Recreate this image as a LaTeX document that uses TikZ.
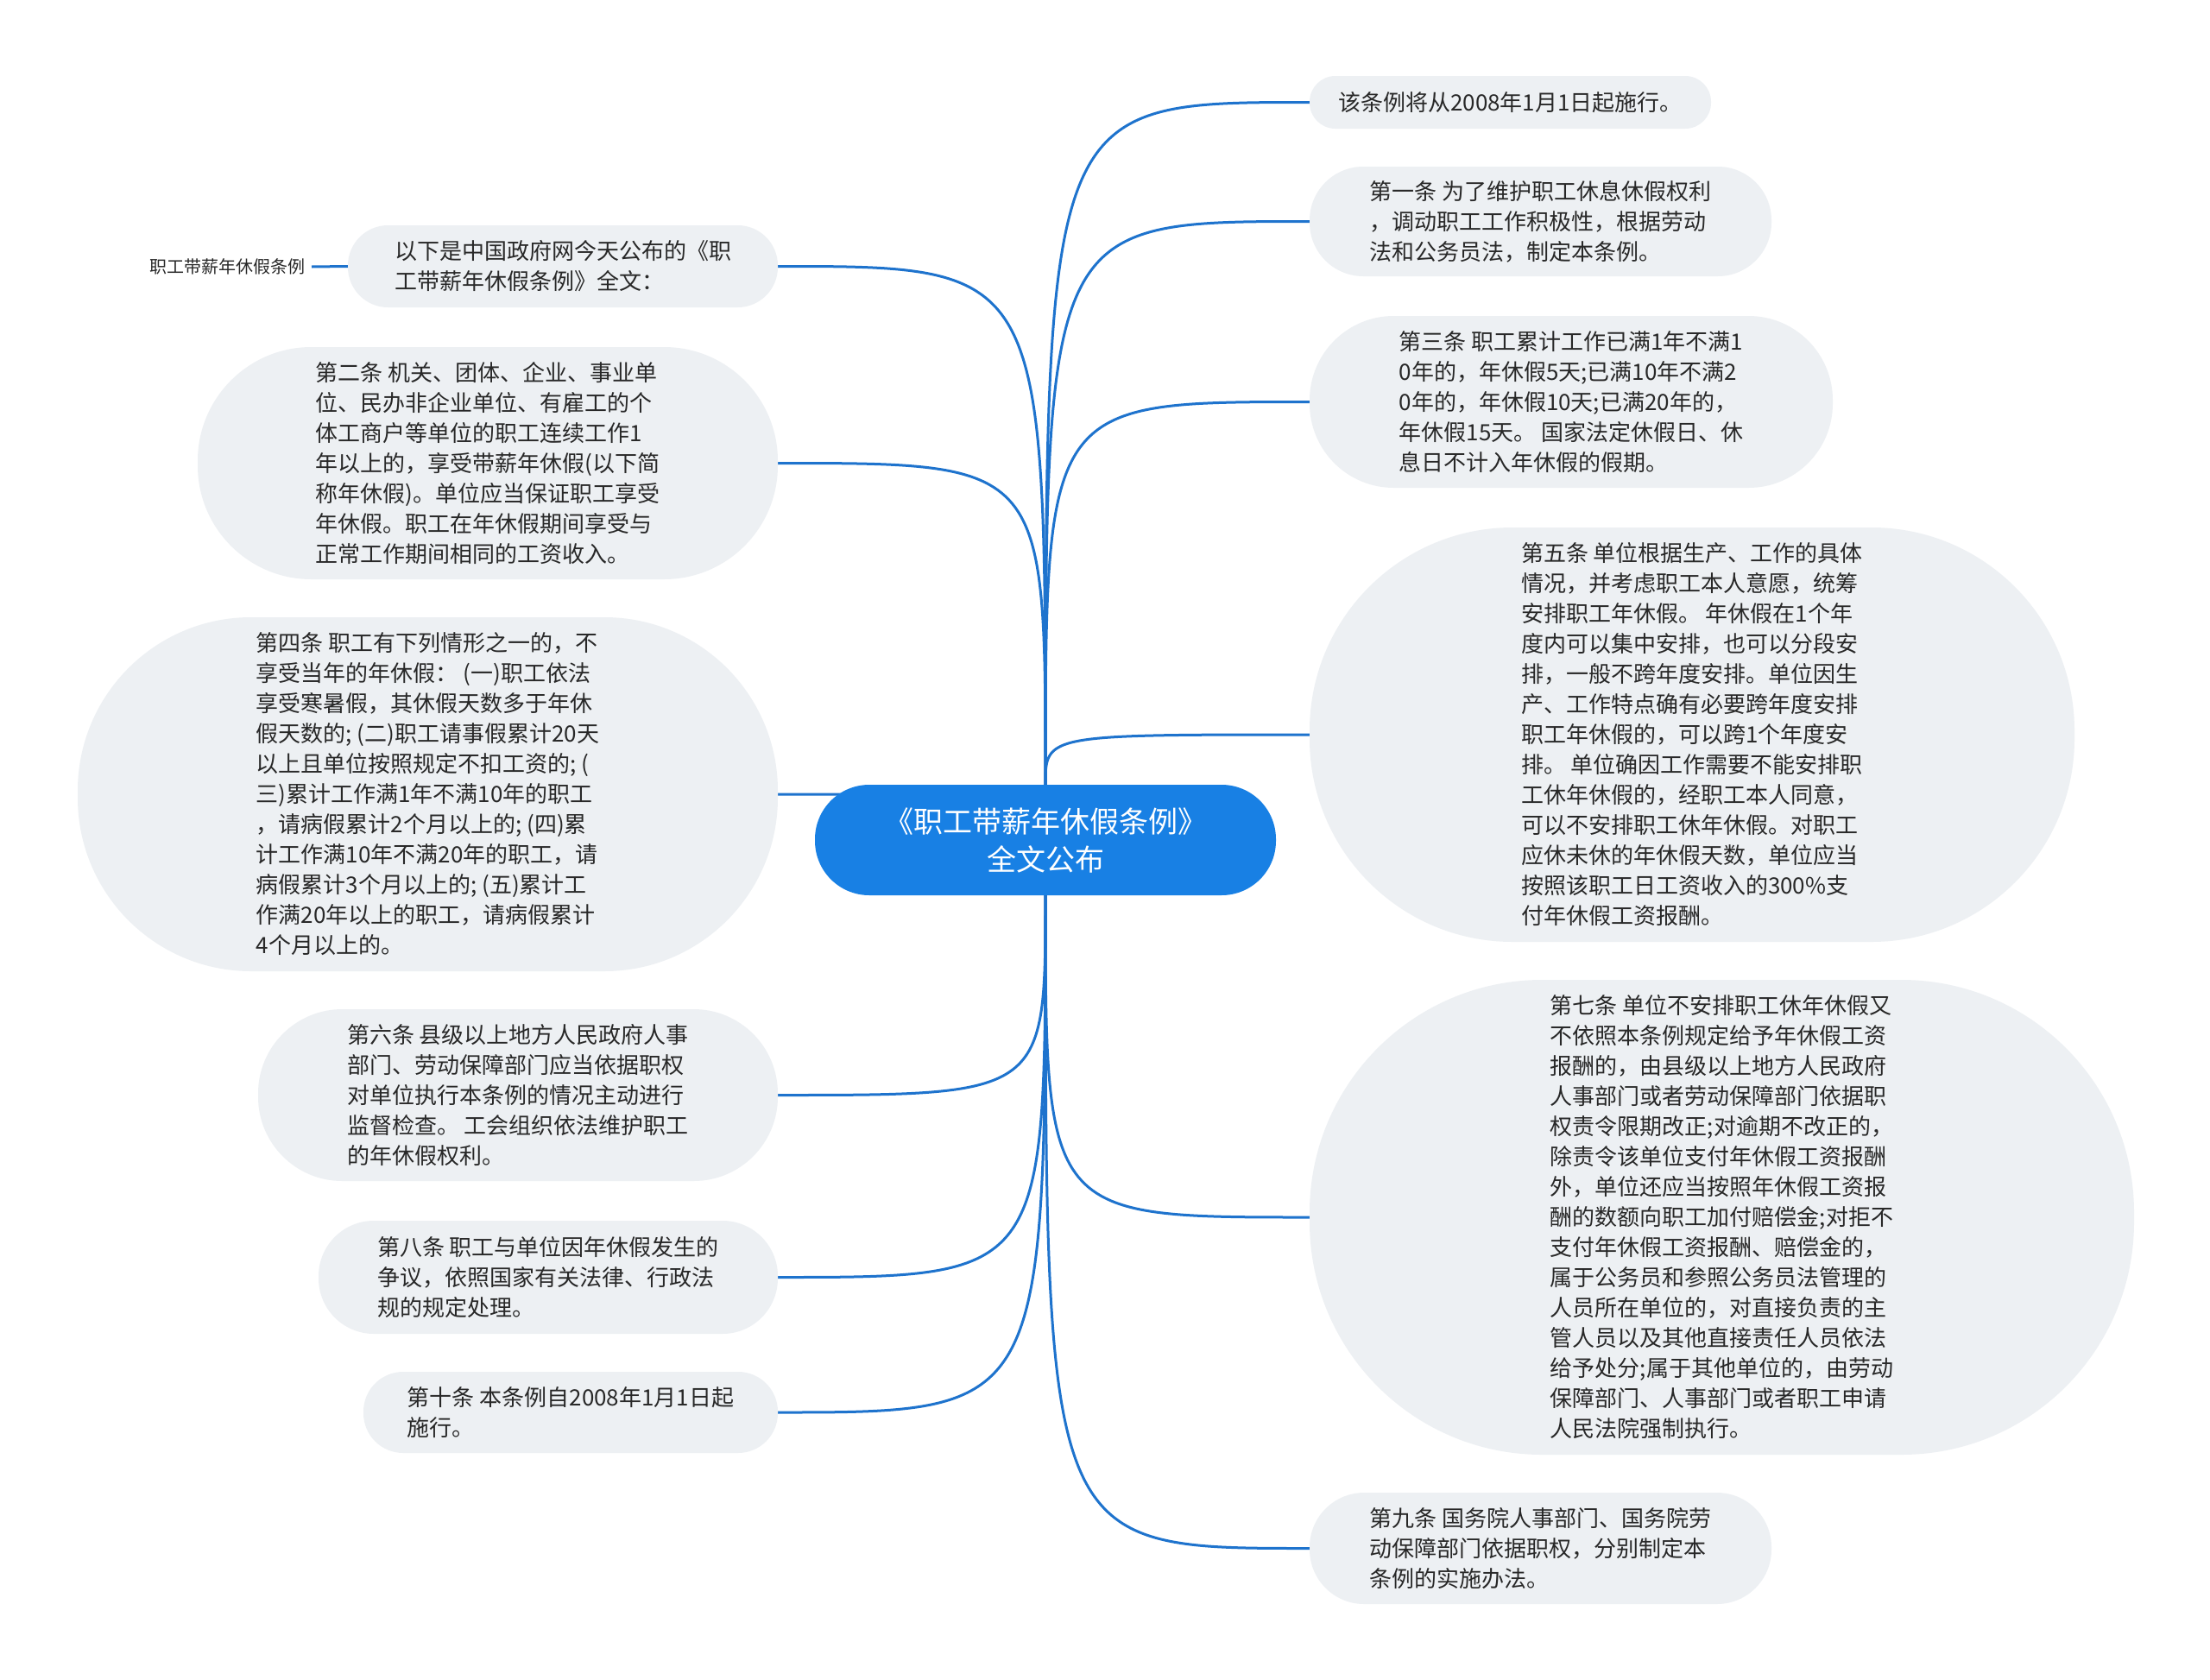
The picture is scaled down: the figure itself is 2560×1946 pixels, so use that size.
\documentclass[tikz,border=0pt]{standalone}
\usepackage{fontspec}
\setmainfont{Noto Sans CJK SC}
\usetikzlibrary{backgrounds}
\definecolor{rootblue}{RGB}{24,128,228}
\definecolor{branchblue}{RGB}{30,115,205}
\definecolor{leafgray}{RGB}{237,240,243}
\definecolor{leaftext}{RGB}{40,40,40}

\begin{document}
\begin{tikzpicture}[
  x=1pt, y=-1pt,
  root/.style={fill=rootblue, text=white, align=center, inner sep=0pt,
    minimum width=534pt, minimum height=128pt, rounded corners=63pt,
    font=\fontsize{34}{44}\selectfont},
  leaf/.style 2 args={fill=leafgray, text=leaftext, align=left, inner sep=0pt,
    minimum width=#1, minimum height=#2, rounded corners=0.49*#2,
    font=\fontsize{26}{35}\selectfont},
  tag/.style={text=leaftext, inner sep=7pt, anchor=east,
    font=\fontsize{20}{24}\selectfont},
  branch/.style={draw=branchblue, line width=3pt}
]
\useasboundingbox (0,0) rectangle (2560,1946);

\node[root] (c) at (1211,973) {《职工带薪年休假条例》\\全文公布};

\node[leaf={498pt}{95pt}] (l1) at (652,308.5)
  {以下是中国政府网今天公布的《职\\工带薪年休假条例》全文：};
\node[tag] (lab) at (361,309) {职工带薪年休假条例};
\node[leaf={672pt}{269pt}] (l2) at (565,536.5)
  {第二条 机关、团体、企业、事业单\\位、民办非企业单位、有雇工的个\\体工商户等单位的职工连续工作1\\年以上的，享受带薪年休假(以下简\\称年休假)。单位应当保证职工享受\\年休假。职工在年休假期间享受与\\正常工作期间相同的工资收入。};
\node[leaf={811pt}{410pt}] (l3) at (495.5,920)
  {第四条 职工有下列情形之一的，不\\享受当年的年休假： (一)职工依法\\享受寒暑假，其休假天数多于年休\\假天数的; (二)职工请事假累计20天\\以上且单位按照规定不扣工资的; (\\三)累计工作满1年不满10年的职工\\，请病假累计2个月以上的; (四)累\\计工作满10年不满20年的职工，请\\病假累计3个月以上的; (五)累计工\\作满20年以上的职工，请病假累计\\4个月以上的。};
\node[leaf={602pt}{199pt}] (l4) at (600,1268.5)
  {第六条 县级以上地方人民政府人事\\部门、劳动保障部门应当依据职权\\对单位执行本条例的情况主动进行\\监督检查。 工会组织依法维护职工\\的年休假权利。};
\node[leaf={532pt}{131pt}] (l5) at (635,1479.5)
  {第八条 职工与单位因年休假发生的\\争议，依照国家有关法律、行政法\\规的规定处理。};
\node[leaf={480pt}{94pt}] (l6) at (661,1636)
  {第十条 本条例自2008年1月1日起\\施行。};

\node[leaf={465pt}{61pt}] (r1) at (1749.5,118.5)
  {该条例将从2008年1月1日起施行。};
\node[leaf={535pt}{127pt}] (r2) at (1784.5,256.5)
  {第一条 为了维护职工休息休假权利\\，调动职工工作积极性，根据劳动\\法和公务员法，制定本条例。};
\node[leaf={606pt}{199pt}] (r3) at (1820,465.5)
  {第三条 职工累计工作已满1年不满1\\0年的，年休假5天;已满10年不满2\\0年的，年休假10天;已满20年的，\\年休假15天。 国家法定休假日、休\\息日不计入年休假的假期。};
\node[leaf={886pt}{480pt}] (r4) at (1960,851)
  {第五条 单位根据生产、工作的具体\\情况，并考虑职工本人意愿，统筹\\安排职工年休假。 年休假在1个年\\度内可以集中安排，也可以分段安\\排，一般不跨年度安排。单位因生\\产、工作特点确有必要跨年度安排\\职工年休假的，可以跨1个年度安\\排。 单位确因工作需要不能安排职\\工休年休假的，经职工本人同意，\\可以不安排职工休年休假。对职工\\应休未休的年休假天数，单位应当\\按照该职工日工资收入的300\%支\\付年休假工资报酬。};
\node[leaf={955pt}{550pt}] (r5) at (1994.5,1410)
  {第七条 单位不安排职工休年休假又\\不依照本条例规定给予年休假工资\\报酬的，由县级以上地方人民政府\\人事部门或者劳动保障部门依据职\\权责令限期改正;对逾期不改正的，\\除责令该单位支付年休假工资报酬\\外，单位还应当按照年休假工资报\\酬的数额向职工加付赔偿金;对拒不\\支付年休假工资报酬、赔偿金的，\\属于公务员和参照公务员法管理的\\人员所在单位的，对直接负责的主\\管人员以及其他直接责任人员依法\\给予处分;属于其他单位的，由劳动\\保障部门、人事部门或者职工申请\\人民法院强制执行。};
\node[leaf={535pt}{129pt}] (r6) at (1784.5,1793.5)
  {第九条 国务院人事部门、国务院劳\\动保障部门依据职权，分别制定本\\条例的实施办法。};

\begin{scope}[on background layer]
\fill[white] (0,0) rectangle (2560,1946);
\foreach \n in {r1,r2,r3,r4}
  \draw[branch] (c.north) .. controls (c.north |- \n.west) .. (\n.west);
\foreach \n in {r5,r6}
  \draw[branch] (c.south) .. controls (c.south |- \n.west) .. (\n.west);
\foreach \n in {l1,l2,l3}
  \draw[branch] (c.north) .. controls (c.north |- \n.east) .. (\n.east);
\foreach \n in {l4,l5,l6}
  \draw[branch] (c.south) .. controls (c.south |- \n.east) .. (\n.east);
\draw[branch] (lab.east) -- (l1.west);
\end{scope}
\end{tikzpicture}
\end{document}
